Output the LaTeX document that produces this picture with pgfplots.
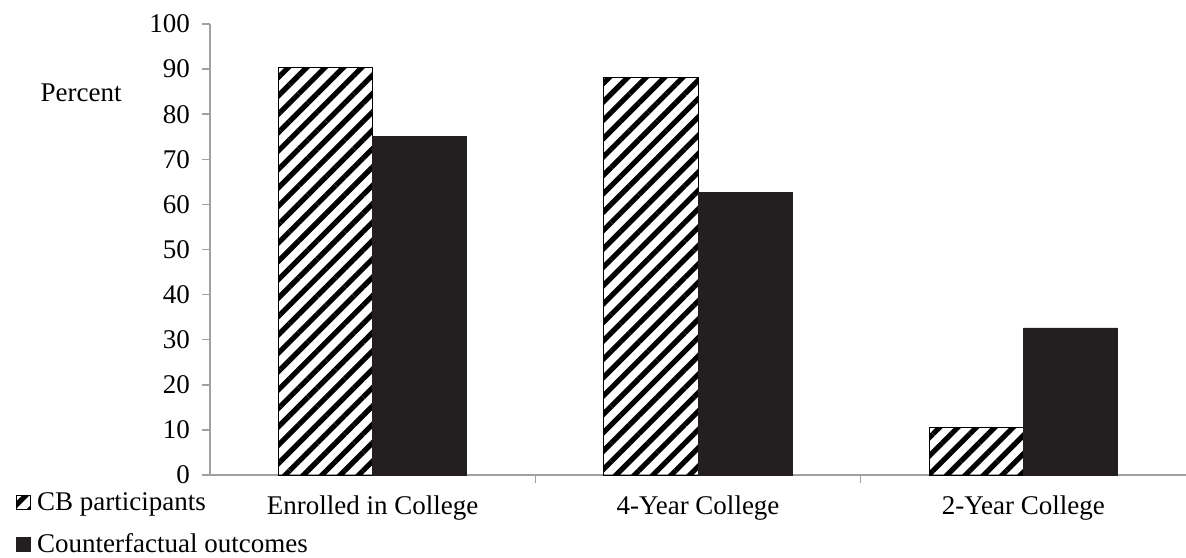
\documentclass[border=0pt]{standalone}
\usepackage{fontspec}
\setmainfont{Liberation Serif}
\usepackage{pgfplots}
\pgfplotsset{compat=1.18}
\usetikzlibrary{patterns.meta}
\definecolor{barblack}{RGB}{35,31,32}
\definecolor{axgray}{RGB}{160,160,160}
\begin{document}
\begin{tikzpicture}
\useasboundingbox (-105bp,-41.5bp) rectangle (488bp,237.5bp);
\begin{axis}[
  at={(0,0)}, anchor=south west,
  scale only axis, clip=false,
  width=488bp, height=225.5bp,
  font=\fontsize{13.5bp}{16bp}\selectfont,
  /pgf/number format/assume math mode=true,
  ybar=0pt, bar width=0.289,
  xmin=-0.5, xmax=2.5,
  ymin=0, ymax=100,
  ytick={0,10,...,100},
  xtick={0,1,2},
  xticklabels={Enrolled in College,4-Year College,2-Year College},
  minor xtick={0.5,1.5},
  axis x line=bottom, axis y line=left,
  axis line style={-, draw=axgray, line width=0.75bp},
  tick align=outside,
  major tick length=4bp, minor tick length=4bp,
  major x tick style={draw=none},
  minor x tick style={draw=axgray, line width=0.75bp},
  ytick style={draw=axgray, line width=0.75bp},
  yticklabel style={xshift=-2.5bp},
  xticklabel style={yshift=-3bp},
  legend style={draw=none, fill=none, at={(axis description cs:-0.199,-0.029)}, anchor=north west,
    inner sep=0pt, row sep=6bp, font=\fontsize{13.5bp}{16bp}\selectfont,
    /tikz/every odd column/.append style={column sep=1bp}},
  legend cell align=left,
  legend image code/.code={\draw[#1] (0bp,-3.5bp) rectangle (7bp,3.5bp);},
]
\addplot[draw=black, line width=0.5bp, pattern={Lines[angle=45,distance=6.5bp,line width=2.6bp]}, pattern color=black]
  coordinates {(0,90.4) (1,88.2) (2,10.6)};
\addplot[draw=barblack, fill=barblack]
  coordinates {(0,75.0) (1,62.6) (2,32.6)};
\legend{CB participants, Counterfactual outcomes}
\node at (axis description cs:-0.132,0.848) {Percent};
\end{axis}
\end{tikzpicture}
\end{document}
